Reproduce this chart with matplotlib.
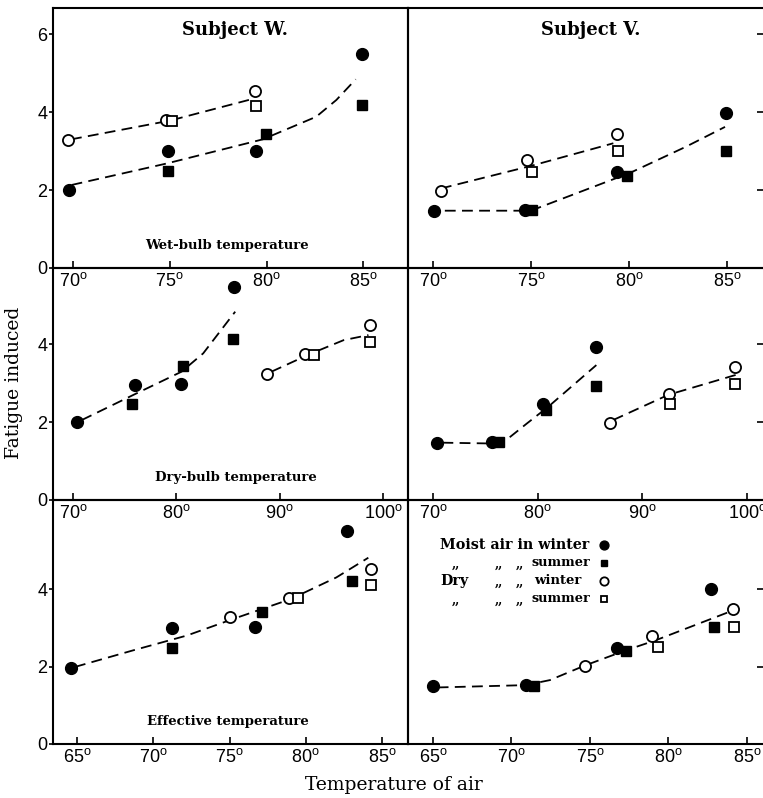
import matplotlib
matplotlib.use("Agg")
import matplotlib.pyplot as plt

plt.rcParams['mathtext.fontset'] = 'custom'
plt.rcParams['mathtext.rm'] = 'Liberation Sans'
plt.rcParams['font.family'] = ['Liberation Sans', 'DejaVu Sans']

W, H = 763, 798
SERIF = 'DejaVu Serif'

# each series is (x values, fatigue values)
# Subject W, wet-bulb
W_WET_MW = ([69.8, 74.9, 79.43, 84.93], [2.0, 3.0, 3.0, 5.48])
W_WET_MS = ([74.9, 79.95, 84.93], [2.5, 3.44, 4.17])
W_WET_DW = ([69.76, 74.83, 79.38], [3.28, 3.79, 4.55])
W_WET_DS = ([75.14, 79.47], [3.78, 4.15])
W_WET_CURVES = [([69.9, 75.0, 79.3], [3.3, 3.78, 4.34]),
                ([69.93, 74.83, 79.8, 82.56, 83.6, 84.6], [2.13, 2.68, 3.3, 3.88, 4.31, 4.84])]

# Subject V, wet-bulb
V_WET_MW = ([70.05, 74.7, 79.4, 84.95], [1.47, 1.49, 2.45, 3.98])
V_WET_MS = ([75.03, 79.9, 84.95], [1.49, 2.37, 3.01])
V_WET_DW = ([70.4, 74.8, 79.4], [1.97, 2.77, 3.44])
V_WET_DS = ([75.03, 79.46], [2.45, 3.0])
V_WET_CURVES = [([70.4, 75.0, 79.2], [2.04, 2.62, 3.2]),
                ([70.6, 74.5, 75.3, 80.05, 82.9, 84.9], [1.47, 1.47, 1.53, 2.44, 3.11, 3.62])]

# Subject W, dry-bulb
W_DRY_MW = ([70.35, 76.0, 80.5, 85.6], [1.99, 2.96, 2.97, 5.47])
W_DRY_MS = ([75.68, 80.6, 85.5], [2.46, 3.44, 4.14])
W_DRY_DW = ([88.8, 92.5, 98.75], [3.23, 3.74, 4.48])
W_DRY_DS = ([93.3, 98.75], [3.73, 4.06])
W_DRY_CURVES = [([70.84, 75.8, 80.5, 82.6, 85.7], [2.05, 2.69, 3.29, 3.76, 4.83]),
                ([89.2, 92.9, 96.2, 98.6], [3.29, 3.74, 4.1, 4.23])]

# Subject V, dry-bulb
V_DRY_MW = ([70.4, 75.6, 80.5, 85.6], [1.47, 1.5, 2.45, 3.93])
V_DRY_MS = ([76.3, 80.8, 85.6], [1.5, 2.31, 2.93])
V_DRY_DW = ([86.9, 92.5, 98.85], [1.97, 2.73, 3.40])
V_DRY_DS = ([92.6, 98.85], [2.46, 2.97])
V_DRY_CURVES = [([70.9, 75.4, 77.0, 79.0, 81.0, 85.6], [1.47, 1.45, 1.54, 1.97, 2.39, 3.46]),
                ([87.2, 92.5, 99.2], [2.05, 2.7, 3.23])]

# Subject W, effective
W_EFF_MW = ([64.6, 71.2, 76.7, 82.7], [1.97, 2.99, 3.02, 5.49])
W_EFF_MS = ([71.2, 77.15, 83.0], [2.48, 3.40, 4.2])
W_EFF_DW = ([75.03, 78.9, 84.3], [3.27, 3.76, 4.51])
W_EFF_DS = ([79.5, 84.3], [3.76, 4.11])
W_EFF_CURVES = [([64.87, 68.7, 72.2, 75.25, 79.0, 82.0, 84.1], [1.99, 2.42, 2.8, 3.23, 3.74, 4.3, 4.81])]

# Subject V, effective
V_EFF_MW = ([65.0, 70.9, 76.7, 82.7], [1.50, 1.52, 2.49, 4.0])
V_EFF_MS = ([71.45, 77.3, 82.9], [1.5, 2.39, 3.02])
V_EFF_DW = ([74.7, 78.97, 84.1], [2.02, 2.80, 3.49])
V_EFF_DS = ([79.35, 84.2], [2.5, 3.02])
V_EFF_CURVES = [([65.3, 70.9, 72.45, 74.7, 77.3, 79.2, 83.8], [1.46, 1.52, 1.65, 2.03, 2.42, 2.68, 3.4])]

WET_TICKS = [70, 75, 80, 85]
DRY_TICKS = [70, 80, 90, 100]
EFF_TICKS = [65, 70, 75, 80, 85]

STYLES = {
    'MW': dict(marker='o', ms=8.5, mfc='black', mec='black', mew=1.0),
    'MS': dict(marker='s', ms=6.5, mfc='black', mec='black', mew=1.0),
    'DW': dict(marker='o', ms=8.0, mfc='white', mec='black', mew=1.3),
    'DS': dict(marker='s', ms=6.5, mfc='white', mec='black', mew=1.3),
}

fig = plt.figure(figsize=(W / 100, H / 100), dpi=100)


def px_axes(x0, y0, x1, y1):
    return fig.add_axes([x0 / W, 1 - y1 / H, (x1 - x0) / W, (y1 - y0) / H])


def panel(box, xlim, ylim, xticks, yticks, left, series, curves):
    ax = px_axes(*box)
    ax.patch.set_visible(False)
    ax.set_xlim(*xlim)
    ax.set_ylim(*ylim)
    for sp in ax.spines.values():
        sp.set_linewidth(1.5)
    ax.set_xticks(xticks)
    ax.set_xticklabels([r'$\mathrm{%d^{o}}$' % t for t in xticks], fontsize=13)
    ax.tick_params(axis='x', direction='in', length=5, width=1.2, pad=3)
    ax.set_yticks(yticks)
    if left:
        ax.set_yticklabels([str(t) for t in yticks], fontsize=13)
        ax.tick_params(axis='y', direction='out', length=3, width=1.2, pad=1)
    else:
        ax.tick_params(axis='y', left=False, labelleft=False, right=True,
                       direction='in', length=6, width=1.2)
    for cx, cy in curves:
        ax.plot(cx, cy, color='black', lw=1.3, dashes=(6, 3.5), zorder=2)
    for key, (sx, sy) in series.items():
        ax.plot(sx, sy, ls='none', zorder=3, clip_on=False, **STYLES[key])
    return ax


LX, MX, RX = 53, 408, 765

panel((LX, 8, MX, 268), (68.97, 87.3), (0, 6.67), WET_TICKS, [0, 2, 4, 6], True,
      dict(MW=W_WET_MW, MS=W_WET_MS, DW=W_WET_DW, DS=W_WET_DS), W_WET_CURVES)
panel((MX, 8, RX, 268), (68.72, 86.94), (0, 6.67), WET_TICKS, [2, 4, 6], False,
      dict(MW=V_WET_MW, MS=V_WET_MS, DW=V_WET_DW, DS=V_WET_DS), V_WET_CURVES)
panel((LX, 268, MX, 500), (68.06, 102.43), (0, 5.95), DRY_TICKS, [0, 2, 4], True,
      dict(MW=W_DRY_MW, MS=W_DRY_MS, DW=W_DRY_DW, DS=W_DRY_DS), W_DRY_CURVES)
panel((MX, 268, RX, 500), (67.61, 101.71), (0, 5.95), DRY_TICKS, [2, 4], False,
      dict(MW=V_DRY_MW, MS=V_DRY_MS, DW=V_DRY_DW, DS=V_DRY_DS), V_DRY_CURVES)
panel((LX, 500, MX, 744), (63.43, 86.7), (0, 6.3), EFF_TICKS, [0, 2, 4], True,
      dict(MW=W_EFF_MW, MS=W_EFF_MS, DW=W_EFF_DW, DS=W_EFF_DS), W_EFF_CURVES)
panel((MX, 500, RX, 744), (63.41, 86.15), (0, 6.3), EFF_TICKS, [2, 4], False,
      dict(MW=V_EFF_MW, MS=V_EFF_MS, DW=V_EFF_DW, DS=V_EFF_DS), V_EFF_CURVES)


def ftext(x, y, s, **kw):
    fig.text(x / W, 1 - y / H, s, **kw)


ftext(235, 30, 'Subject W.', family=SERIF, weight='bold', fontsize=13, ha='center', va='center')
ftext(591, 30, 'Subject V.', family=SERIF, weight='bold', fontsize=13, ha='center', va='center')
ftext(227, 245, 'Wet-bulb temperature', family=SERIF, weight='bold', fontsize=9.5, ha='center', va='center')
ftext(236, 477, 'Dry-bulb temperature', family=SERIF, weight='bold', fontsize=9.5, ha='center', va='center')
ftext(228, 722, 'Effective temperature', family=SERIF, weight='bold', fontsize=9.5, ha='center', va='center')
ftext(14, 383, 'Fatigue induced', family=SERIF, fontsize=13.5, rotation=90, ha='center', va='center')
ftext(394, 785, 'Temperature of air', family=SERIF, fontsize=13.5, ha='center', va='center')

# legend drawn by hand, with ditto marks
leg = dict(family=SERIF, weight='bold', va='center')
ftext(440, 545, 'Moist air in winter', fontsize=10.3, **leg)
ftext(531, 563, 'summer', fontsize=9.3, **leg)
ftext(440, 581, 'Dry', fontsize=10.3, **leg)
ftext(534, 581, 'winter', fontsize=9.5, **leg)
ftext(531, 599, 'summer', fontsize=9.3, **leg)
for yy, cols in [(563, [452, 495, 516]), (581, [495, 516]), (599, [452, 495, 516])]:
    for xx in cols:
        ftext(xx, yy + 1, ',,', fontsize=8.5, **leg)
for yy, key in [(545, 'MW'), (563, 'MS'), (581, 'DW'), (599, 'DS')]:
    st = dict(STYLES[key])
    st['ms'] = st['ms'] * 0.75
    fig.add_artist(plt.Line2D([604 / W], [1 - yy / H], ls='none', transform=fig.transFigure, **st))

fig.savefig('out.png', dpi=100)
